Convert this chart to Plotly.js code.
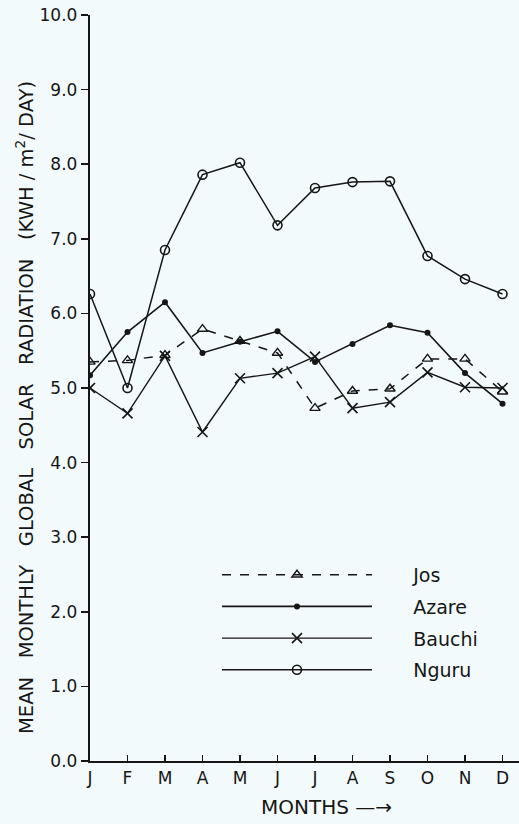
<!DOCTYPE html>
<html>
<head>
<meta charset="utf-8">
<script src="https://cdn.plot.ly/plotly-3.0.1.min.js"></script>
<style>html,body{margin:0;padding:0;background:#f2fafc;}#chart{width:519px;height:824px;}</style>
</head>
<body>
<div id="chart"></div>
<script>
// Data
var monthIndex = [0, 1, 2, 3, 4, 5, 6, 7, 8, 9, 10, 11];
var monthLabels = ["J", "F", "M", "A", "M", "J", "J", "A", "S", "O", "N", "D"];
var yTickVals = [0, 1, 2, 3, 4, 5, 6, 7, 8, 9, 10];
var yTickText = ["0.0", "1.0", "2.0", "3.0", "4.0", "5.0", "6.0", "7.0", "8.0", "9.0", "10.0"];
var seriesNames = ["Jos", "Azare", "Bauchi", "Nguru"];

var josValues    = [5.35, 5.37, 5.44, 5.79, 5.63, 5.47, 4.73, 4.96, 4.99, 5.39, 5.39, 4.95];
var azareValues  = [5.17, 5.75, 6.15, 5.47, 5.62, 5.76, 5.35, 5.59, 5.84, 5.74, 5.20, 4.79];
var bauchiValues = [5.00, 4.66, 5.43, 4.41, 5.13, 5.20, 5.42, 4.73, 4.81, 5.21, 5.01, 5.00];
var nguruValues  = [6.26, 5.00, 6.85, 7.86, 8.02, 7.18, 7.68, 7.76, 7.77, 6.77, 6.46, 6.26];

var ink = "#161616";
var pad = "\u00a0\u00a0\u00a0\u00a0\u00a0\u00a0";

var traces = [
  {name: pad + seriesNames[0], x: monthIndex, y: josValues, mode: "lines+markers", legendgroup: "a",
   line: {color: ink, width: 1.5, dash: "dash"},
   marker: {symbol: "triangle-up-open", size: 9, color: ink, line: {width: 1.4, color: ink}}},
  {name: pad + seriesNames[1], x: monthIndex, y: azareValues, mode: "lines+markers", legendgroup: "b",
   line: {color: ink, width: 1.6},
   marker: {symbol: "circle", size: 6, color: ink}},
  {name: pad + seriesNames[2], x: monthIndex, y: bauchiValues, mode: "lines+markers", legendgroup: "c",
   line: {color: ink, width: 1.4},
   marker: {symbol: "x-thin-open", size: 10, color: ink, line: {width: 1.6, color: ink}}},
  {name: pad + seriesNames[3], x: monthIndex, y: nguruValues, mode: "lines+markers", legendgroup: "d",
   line: {color: ink, width: 1.5},
   marker: {symbol: "circle-open", size: 9, color: ink, line: {width: 1.6, color: ink}}}
];

var font = "DejaVu Sans, Liberation Sans, sans-serif";
var sp = "\u00a0\u00a0\u00a0";

var layout = {
  width: 519, height: 824,
  margin: {l: 90, r: 0, t: 15, b: 63},
  paper_bgcolor: "#f2fafc",
  plot_bgcolor: "#f2fafc",
  font: {family: font, color: ink},
  showlegend: true,
  legend: {
    x: 0.296, y: 0.275, xanchor: "left", yanchor: "top",
    bgcolor: "rgba(0,0,0,0)",
    font: {family: font, size: 19, color: ink},
    traceorder: "grouped", tracegroupgap: 4,
    itemwidth: 150
  },
  xaxis: {
    range: [0, 11.44],
    tickmode: "array", tickvals: monthIndex, ticktext: monthLabels,
    ticks: "inside", ticklen: 6, tickwidth: 1.6, tickcolor: ink,
    showline: true, linecolor: ink, linewidth: 2.2,
    showgrid: false, zeroline: false,
    tickfont: {family: font, size: 17, color: ink}
  },
  yaxis: {
    range: [0, 10],
    tickmode: "array", tickvals: yTickVals, ticktext: yTickText,
    ticks: "outside", ticklen: 7, tickwidth: 1.6, tickcolor: ink,
    showline: true, linecolor: ink, linewidth: 2.2,
    showgrid: false, zeroline: false,
    tickfont: {family: font, size: 17, color: ink}
  },
  annotations: [
    {text: "MONTHS \u2014\u2192", xref: "paper", yref: "paper",
     x: (326 - 90) / 429, y: -(807 - 761) / 746, xanchor: "center", yanchor: "middle",
     showarrow: false, font: {family: font, size: 20, color: ink}},
    {text: "MEAN" + sp + "MONTHLY" + sp + "GLOBAL" + sp + "SOLAR" + sp + "RADIATION" + sp + "(KWH / m<sup>2</sup>/ DAY)",
     xref: "paper", yref: "paper", textangle: -90,
     x: (25 - 90) / 429, y: (761 - 408) / 746, xanchor: "center", yanchor: "middle",
     showarrow: false, font: {family: font, size: 19.5, color: ink}}
  ]
};

Plotly.newPlot("chart", traces, layout, {displayModeBar: false, staticPlot: true});
</script>
</body>
</html>
